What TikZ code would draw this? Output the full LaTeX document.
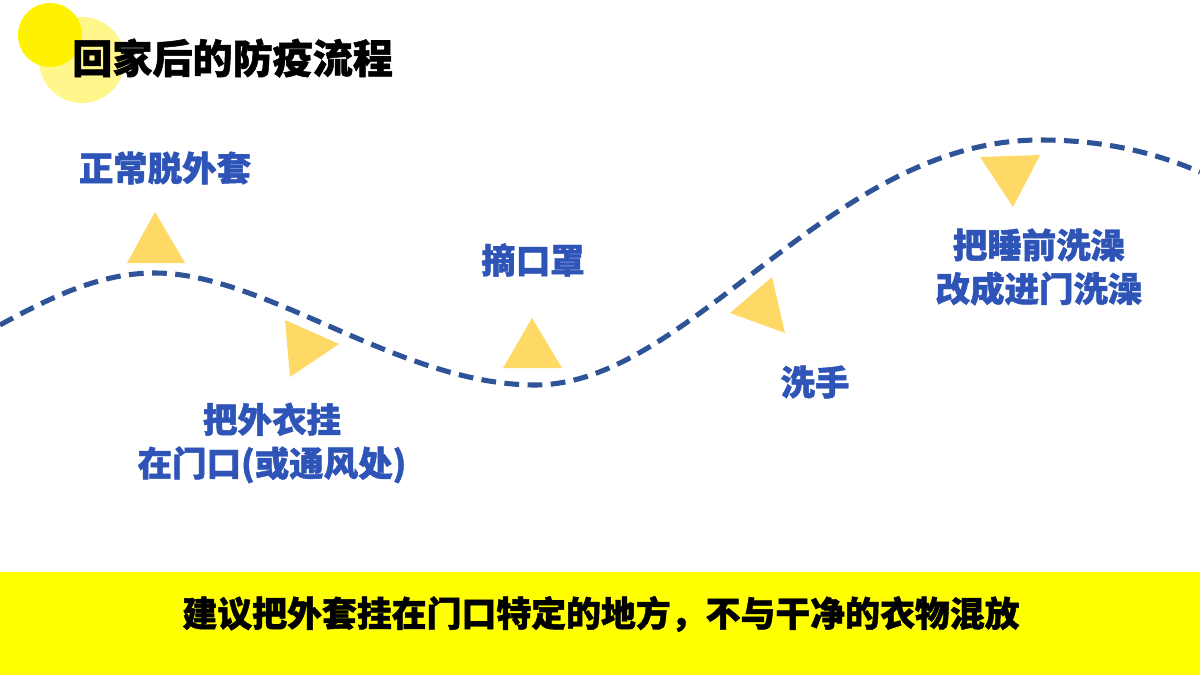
\documentclass[tikz,border=0pt]{standalone}
\usepackage{fontspec}
\usepackage{xcolor}
\usetikzlibrary{positioning, calc}
\newfontfamily\cjk{Noto Sans CJK SC}[BoldFeatures={FakeBold=1.3}]
\definecolor{wavedark}{RGB}{46, 83, 150}
\definecolor{labelblue}{RGB}{46, 84, 184}
\definecolor{markyellow}{RGB}{255, 217, 102}
\definecolor{brightyellow}{RGB}{255, 242, 0}
\definecolor{paleyellow}{RGB}{255, 246, 140}
\definecolor{barfill}{RGB}{255, 255, 0}

\begin{document}
\begin{tikzpicture}[
    x=0.025cm, y=-0.025cm, % one unit is one pixel of the slide
    % Style for the step labels along the wave
    steplabel/.style={
        text=labelblue,
        font=\cjk\bfseries\fontsize{24.5}{31}\selectfont,
        align=center,
        inner sep=0pt
    },
    % Style for the dashed wave
    wave/.style={
        draw=wavedark,
        line width=3.6pt,
        dash pattern=on 10.5pt off 6pt
    },
    % Style for the small triangles
    marker/.style={fill=markyellow}
]

% Page size
\useasboundingbox[fill=white] (0,0) rectangle (1200,675);

% Decorative circles behind the title
\fill[paleyellow] (82,60) circle (43);
\fill[brightyellow] (50,35) circle (32);

% Title
\node[anchor=west, inner sep=0pt, font=\cjk\bfseries\fontsize{28.5}{32}\selectfont] (title) at (72,58) {回家后的防疫流程};

% Bottom bar with the advice
\fill[barfill] (0,572) rectangle (1200,675);
\node[inner sep=0pt, font=\cjk\bfseries\fontsize{24.8}{28}\selectfont] (advice) at (601,614) {建议把外套挂在门口特定的地方，不与干净的衣物混放};

% The dashed wave
\draw[wave] (0,325) .. controls (60,292) and (105,273) .. (155,273)
    .. controls (265,273) and (400,385) .. (535,385)
    .. controls (690,385) and (830,140) .. (1040,140)
    .. controls (1110,140) and (1160,155) .. (1200,172);

% Triangles along the wave
\fill[marker] (155,212) -- (185,263) -- (127,263) -- cycle;
\fill[marker] (285,320) -- (339,344) -- (290,377) -- cycle;
\fill[marker] (532,318) -- (562,368) -- (503,368) -- cycle;
\fill[marker] (730,313) -- (772,277) -- (785,333) -- cycle;
\fill[marker] (980,157) -- (1040,155) -- (1013,207) -- cycle;

% Step labels
\node[steplabel] (coat) at (165,168) {正常脱外套};
\node[steplabel] (hang) at (272,443) {把外衣挂\\在门口(或通风处)};
\node[steplabel] (mask) at (533,260) {摘口罩};
\node[steplabel] (wash) at (815,382) {洗手};
\node[steplabel] (bath) at (1039,267) {把睡前洗澡\\改成进门洗澡};

\end{tikzpicture}
\end{document}
